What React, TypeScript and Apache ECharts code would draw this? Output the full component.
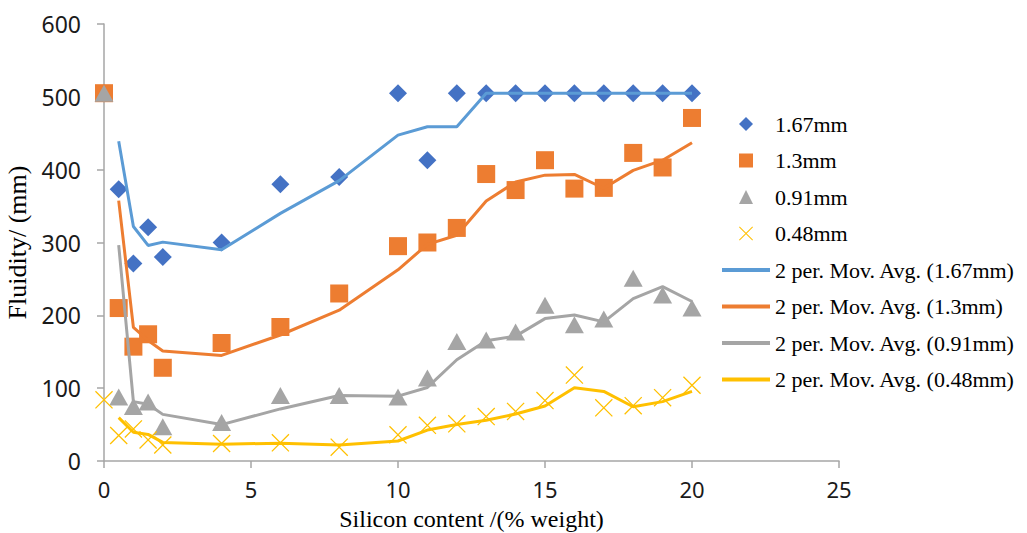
import React, { useEffect, useRef } from "react";
import * as echarts from "echarts";

const siliconX = [0, 0.5, 1, 1.5, 2, 4, 6, 8, 10, 11, 12, 13, 14, 15, 16, 17, 18, 19, 20];
const fluidity167 = [505, 373, 271, 321, 280, 300, 380, 390, 505, 413, 505, 505, 505, 505, 505, 505, 505, 505, 505];
const fluidity13 = [505, 210, 157, 174, 128, 162, 184, 230, 295, 300, 320, 394, 372, 413, 374, 375, 423, 403, 471];
const fluidity091 = [505, 88, 75, 81, 47, 53, 90, 90, 88, 114, 164, 166, 177, 214, 187, 195, 251, 228, 210];
const fluidity048 = [84, 35, 44, 29, 22, 24, 25, 19, 36, 49, 51, 61, 68, 83, 118, 73, 76, 87, 104];

const seriesNames = ["1.67mm", "1.3mm", "0.91mm", "0.48mm"];
const trendNames = [
  "2 per. Mov. Avg. (1.67mm)",
  "2 per. Mov. Avg. (1.3mm)",
  "2 per. Mov. Avg. (0.91mm)",
  "2 per. Mov. Avg. (0.48mm)",
];
const markerColors = ["#4472C4", "#ED7D31", "#A5A5A5", "#FFC000"];
const lineColors = ["#5B9BD5", "#ED7D31", "#A5A5A5", "#FFC000"];

const CROSS =
  "path://M0,0.5L0.5,0L10,9.5L9.5,10Z M9.5,0L10,0.5L0.5,10L0,9.5Z";

function pairs(xs: number[], ys: number[]) {
  return xs.map((x, i) => [x, ys[i]]);
}

// Excel's 2-period moving average trendline, derived from the data
function movingAvg(xs: number[], ys: number[]) {
  return xs.slice(1).map((x, i) => [x, (ys[i] + ys[i + 1]) / 2]);
}

export default function App() {
  const ref = useRef<HTMLDivElement>(null);

  useEffect(() => {
    if (!ref.current) return;
    const chart = echarts.init(ref.current, undefined, { renderer: "svg" });
    const allY = [fluidity167, fluidity13, fluidity091, fluidity048];
    const symbols = ["diamond", "rect", "triangle", CROSS];
    const sizes: any[] = [18, 18, [19, 17], 18];

    const scatterSeries = allY.map((ys, i) => ({
      name: seriesNames[i],
      type: "scatter",
      data: pairs(siliconX, ys),
      symbol: symbols[i],
      symbolSize: sizes[i],
      itemStyle: { color: markerColors[i], opacity: 1 },
      z: 2,
    }));

    const lineSeries = allY.map((ys, i) => ({
      name: trendNames[i],
      type: "line",
      data: movingAvg(siliconX, ys),
      symbol: "none",
      showSymbol: false,
      lineStyle: { color: lineColors[i], width: 3 },
      itemStyle: { color: lineColors[i] },
      z: 3,
    }));

    const legendText = {
      fontFamily: "Liberation Serif",
      fontSize: 22,
      lineHeight: 22,
      color: "#000000",
    };

    chart.setOption({
      animation: false,
      backgroundColor: "#ffffff",
      grid: {
        left: 104,
        right: 188,
        top: 24,
        bottom: 72,
        containLabel: false,
        outerBoundsMode: "none",
      },
      legend: [
        {
          orient: "vertical",
          left: 734,
          top: 108,
          padding: 5,
          itemWidth: 14,
          itemHeight: 14,
          itemGap: 14.5,
          textStyle: { ...legendText, padding: [0, 0, 0, 17] },
          data: seriesNames.map((n, i) => ({
            name: n,
            icon: symbols[i],
            itemStyle: { color: markerColors[i] },
          })),
        },
        {
          orient: "vertical",
          left: 717,
          top: 254,
          padding: 5,
          itemWidth: 48,
          itemHeight: 4,
          itemGap: 14.5,
          icon: "rect",
          textStyle: legendText,
          data: trendNames,
        },
      ],
      xAxis: {
        type: "value",
        min: 0,
        max: 25,
        interval: 5,
        name: "Silicon content /(% weight)",
        nameLocation: "middle",
        nameGap: 46,
        nameMoveOverlap: false,
        nameTextStyle: { fontFamily: "Liberation Serif", fontSize: 24, lineHeight: 24, color: "#000000" },
        axisLine: { show: true, onZero: false, lineStyle: { color: "#A6A6A6", width: 1.5 } },
        axisTick: { show: true, length: 7, lineStyle: { color: "#A6A6A6", width: 1.5 } },
        axisLabel: { fontFamily: "Noto Sans", fontSize: 22, lineHeight: 22, color: "#1a1a1a", margin: 17 },
        splitLine: { show: false },
      },
      yAxis: {
        type: "value",
        min: 0,
        max: 600,
        interval: 100,
        name: "Fluidity/ (mm)",
        nameLocation: "middle",
        nameGap: 71,
        nameTextStyle: { fontFamily: "Liberation Serif", fontSize: 26, color: "#000000" },
        axisLine: { show: true, lineStyle: { color: "#A6A6A6", width: 1.5 } },
        axisTick: { show: true, length: 7, lineStyle: { color: "#A6A6A6", width: 1.5 } },
        axisLabel: { fontFamily: "Noto Sans", fontSize: 23, color: "#1a1a1a", margin: 23 },
        splitLine: { show: false },
      },
      series: [...scatterSeries, ...lineSeries],
    });
    return () => chart.dispose();
  }, []);

  return <div ref={ref} style={{ width: 1027, height: 533, position: "absolute", left: 0, top: 0 }} />;
}
